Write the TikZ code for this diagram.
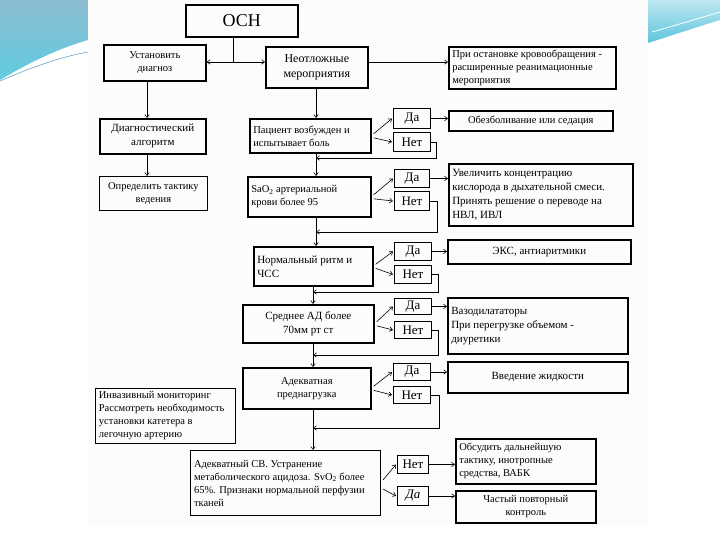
\documentclass[tikz,border=0pt]{standalone}
\usepackage{fontspec}
\setmainfont{Liberation Serif}
\usetikzlibrary{arrows.meta}
\newcommand\mybox[7]{%
  \pgfmathsetmacro\myBW{#4-#2}\pgfmathsetmacro\myBH{#5-#3}\pgfmathsetmacro\myTW{#4-#2-7}%
  \node[#6, anchor=north west, minimum width=\myBW pt, minimum height=\myBH pt, text width=\myTW pt] (#1) at (#2,#3) {#7};}
\begin{document}
\begin{tikzpicture}[x=1pt,y=-1pt,
  bx/.style={draw, line width=1.6pt, inner sep=1pt, font=\fontsize{10.5}{13}\selectfont, align=flush center},
  lbx/.style={bx, align=flush left},
  tbx/.style={bx, line width=0.8pt},
  big/.style={font=\fontsize{11}{14}\selectfont},
  yn/.style={draw, line width=1pt, inner sep=0pt, font=\fontsize{13}{14}\selectfont, align=flush center},
  ln/.style={line width=0.6pt},
  arr/.style={ln, -{Straight Barb[length=3pt,width=4.5pt]}},
]
\useasboundingbox (0,0) rectangle (720,540);
\fill[white] (0,0) rectangle (720,540);
% decorative swooshes
\shade[top color={rgb,255:red,140;green,188;blue,208}, bottom color={rgb,255:red,96;green,204;blue,224}]
  (0,0) -- (88,0) -- (88,40) .. controls (60,48) and (30,62) .. (0,80) -- cycle;
\draw[color={rgb,255:red,90;green,150;blue,190}, line width=0.5pt]
  (0,81) .. controls (30,68) and (60,57) .. (88,52);
\shade[top color={rgb,255:red,190;green,232;blue,240}, bottom color={rgb,255:red,92;green,196;blue,220}]
  (648,0) -- (720,0) -- (720,20) .. controls (700,26) and (670,36) .. (648,43) -- cycle;
\draw[white, line width=0.8pt] (652,32) .. controls (680,24) and (700,18) .. (720,12);
\fill[color={rgb,255:red,252;green,252;blue,252}] (88,0) rectangle (648,526);

% boxes
\mybox{osn}{185}{4}{297}{36}{bx, font=\fontsize{18}{19}\selectfont}{ОСН}
\mybox{ust}{103}{44}{205}{80}{bx}{Установить\\диагноз}
\mybox{neo}{265}{46}{367}{87}{bx, font=\fontsize{12}{15}\selectfont}{Неотложные\\мероприятия}
\mybox{pri}{448}{46}{615}{88}{lbx}{При остановке кровообращения -\\расширенные реанимационные\\мероприятия}
\mybox{diag}{99}{118}{205}{153}{bx, big}{Диагностический\\алгоритм}
\mybox{opr}{99}{176}{207}{210}{tbx}{Определить тактику\\ведения}

\mybox{pac}{249}{118}{370}{152}{lbx}{Пациент возбужден и\\испытывает боль}
\mybox{da1}{393}{108}{430}{128}{yn}{Да}
\mybox{net1}{393}{132}{430}{151}{yn}{Нет}
\mybox{obe}{448}{110}{612}{130}{bx}{Обезболивание или седация}

\mybox{sao}{247}{176}{370}{216}{lbx}{SaO\textsubscript{2} артериальной\\крови более 95}
\mybox{da2}{394}{169}{429}{187}{yn}{Да}
\mybox{net2}{394}{191}{429}{210}{yn}{Нет}
\mybox{uvel}{448}{163}{632}{225}{lbx, big}{Увеличить концентрацию\\кислорода в дыхательной смеси.\\Принять решение о переводе на\\НВЛ, ИВЛ}

\mybox{norm}{253}{246}{372}{285}{lbx, big}{Нормальный ритм и\\ЧСС}
\mybox{da3}{394}{242}{431}{260}{yn}{Да}
\mybox{net3}{394}{265}{431}{283}{yn}{Нет}
\mybox{eks}{447}{239}{630}{263}{bx, big}{ЭКС, антиаритмики}

\mybox{sred}{242}{304}{373}{342}{bx, big}{Среднее АД более\\70мм рт ст}
\mybox{da4}{394}{298}{431}{314}{yn}{Да}
\mybox{net4}{394}{321}{431}{338}{yn}{Нет}
\mybox{vaz}{447}{297}{627}{353}{lbx, big}{Вазодилататоры\\При перегрузке объемом -\\диуретики}

\mybox{adek}{242}{367}{370}{408}{bx}{Адекватная\\преднагрузка}
\mybox{da5}{393}{363}{430}{380}{yn}{Да}
\mybox{net5}{393}{386}{430}{403}{yn}{Нет}
\mybox{vved}{447}{361}{627}{392}{bx, big}{Введение жидкости}

\mybox{inv}{95}{388}{235}{443}{tbx, align=flush left}{Инвазивный мониторинг\\Рассмотреть необходимость\\установки катетера в\\легочную артерию}

\mybox{sv}{190}{450}{380}{515}{tbx, align=flush left, line width=1pt}{Адекватный СВ. Устранение\\метаболического ацидоза. SvO\textsubscript{2} более\\65\%. Признаки нормальной перфузии\\тканей}
\mybox{net6}{397}{455}{428}{473}{yn}{Нет}
\mybox{da6}{397}{486}{428}{505}{yn, font=\fontsize{13}{14}\selectfont\itshape}{Да}
\mybox{obs}{455}{438}{595}{483}{lbx}{Обсудить дальнейшую\\тактику, инотропные\\средства, ВАБК}
\mybox{chas}{455}{490}{595}{522}{bx}{Частый повторный\\контроль}

% helper coordinates
\coordinate (split) at (233,62);
\coordinate (lx) at (147,0);
\coordinate (tx) at (316,0);
\coordinate (ux) at (313,0);
\coordinate (f1) at (0,158);
\coordinate (f2) at (0,232);
\coordinate (f3) at (0,292);
\coordinate (f4) at (0,355);
\coordinate (f5) at (0,428);

% top connectors
\draw[ln] (split |- osn.south) -- (split);
\draw[arr] (split) -- (split -| ust.east);
\draw[arr] (split) -- (split -| neo.west);
\draw[arr] (split -| neo.east) -- (split -| pri.west);
\draw[arr] (lx |- ust.south) -- (lx |- diag.north);
\draw[arr] (lx |- diag.south) -- (lx |- opr.north);

% trunk
\draw[arr] (tx |- neo.south) -- (tx |- pac.north);
\draw[arr] (tx |- pac.south) -- (tx |- sao.north);
\draw[arr] (tx |- sao.south) -- (tx |- norm.north);
\draw[arr] (ux |- norm.south) -- (ux |- sred.north);
\draw[arr] (ux |- sred.south) -- (ux |- adek.north);
\draw[arr] (ux |- adek.south) -- (ux |- sv.north);

% decisions
\foreach \d/\y/\n in {pac/da1/net1, sao/da2/net2, norm/da3/net3, sred/da4/net4, adek/da5/net5}{
  \draw[arr] ([xshift=2pt,yshift=2pt]\d.east) -- ([xshift=-1pt]\y.west);
  \draw[arr] ([xshift=2pt,yshift=-2pt]\d.east) -- ([xshift=-1pt]\n.west);
}
\draw[arr] ([xshift=2pt,yshift=3pt]sv.east) -- ([xshift=-1pt]net6.west);
\draw[arr] ([xshift=2pt,yshift=-6pt]sv.east) -- ([xshift=-1pt]da6.west);

% yes branches
\draw[arr] (da1.east) -- (da1.east -| obe.west);
\draw[arr] (da2.east) -- (da2.east -| uvel.west);
\draw[arr] (da3.east) -- (da3.east -| eks.west);
\draw[arr] (da4.east) -- (da4.east -| vaz.west);
\draw[arr] (da5.east) -- (da5.east -| vved.west);
\draw[arr] (net6.east) -- (net6.east -| obs.west);
\draw[arr] (da6.east) -- (da6.east -| chas.west);

% no feedback loops
\draw[arr] (net1.east) -- ++(5,0) |- (tx |- f1);
\draw[arr] (net2.east) -- ++(7,0) |- (tx |- f2);
\draw[arr] (net3.east) -- ++(6,0) |- (ux |- f3);
\draw[arr] (net4.east) -- ++(6,0) |- (ux |- f4);
\draw[arr] (net5.east) -- ++(8,0) |- (ux |- f5);
\end{tikzpicture}
\end{document}
